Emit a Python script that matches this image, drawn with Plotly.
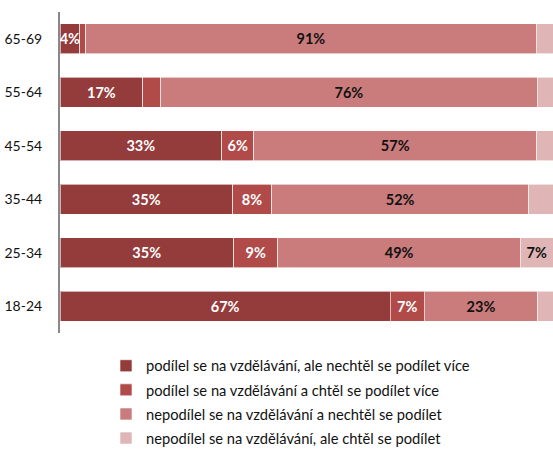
import plotly.graph_objects as go

categories = ["18-24", "25-34", "35-44", "45-54", "55-64", "65-69"]

series_names = [
    "podílel se na vzdělávání, ale nechtěl se podílet více",
    "podílel se na vzdělávání a chtěl se podílet více",
    "nepodílel se na vzdělávání a nechtěl se podílet",
    "nepodílel se na vzdělávání, ale chtěl se podílet",
]

s1 = [67.0, 35.2, 35.0, 32.8, 16.8, 4.0]
s2 = [6.9, 9.0, 7.9, 6.5, 3.6, 1.2]
s3 = [23.0, 49.2, 52.2, 57.4, 76.4, 91.4]
s4 = [3.1, 6.6, 4.9, 3.3, 3.2, 3.4]

# which data labels are shown in the original
show1 = [True, True, True, True, True, True]
show2 = [True, True, True, True, False, False]
show3 = [True, True, True, True, True, True]
show4 = [False, True, False, False, False, False]

colors = ["#943b3b", "#b14b4a", "#c97c7b", "#dfb5b5"]
text_colors = ["white", "white", "#111111", "#111111"]

FONT = "Lato, 'Open Sans', sans-serif"

fig = go.Figure()
for name, vals, show, col, tcol in zip(series_names, [s1, s2, s3, s4],
                                       [show1, show2, show3, show4],
                                       colors, text_colors):
    labels = [f"{round(v)}%" if s else "" for v, s in zip(vals, show)]
    fig.add_trace(go.Bar(
        y=categories, x=vals, name=name, orientation="h",
        marker=dict(color=col, line=dict(color="rgba(255,255,255,0.6)", width=1)),
        text=labels, textposition="inside", insidetextanchor="middle",
        textangle=0, constraintext="none", cliponaxis=False,
        textfont=dict(family=FONT, size=14.5, color=tcol, weight="bold"),
        legendgroup=name,
    ))

fig.update_layout(
    width=553, height=449,
    barmode="stack", bargap=0.44,
    margin=dict(l=60, r=0, t=12, b=116, autoexpand=False),
    paper_bgcolor="white", plot_bgcolor="white",
    font=dict(family=FONT, size=14.7, color="#111111"),
    showlegend=True,
    legend=dict(
        orientation="v", traceorder="grouped", tracegroupgap=2,
        x=(106 - 60) / 493, xanchor="left",
        y=-0.052, yanchor="top",
        font=dict(family=FONT, size=14.7, color="#111111"),
        bgcolor="rgba(0,0,0,0)",
    ),
    xaxis=dict(range=[0, 100], showgrid=False, showticklabels=False,
               zeroline=False, showline=False, fixedrange=True,
               automargin=False),
    yaxis=dict(categoryorder="array", categoryarray=categories,
               showgrid=False, showline=True, linecolor="#888888", linewidth=2,
               ticks="", ticklabelstandoff=13, automargin=False,
               tickfont=dict(family=FONT, size=14, color="#111111")),
)

fig.write_html(
    "out.html",
    config={"displayModeBar": False, "staticPlot": True},
    post_script="document.body.style.margin='0';document.body.style.overflow='hidden';",
)
